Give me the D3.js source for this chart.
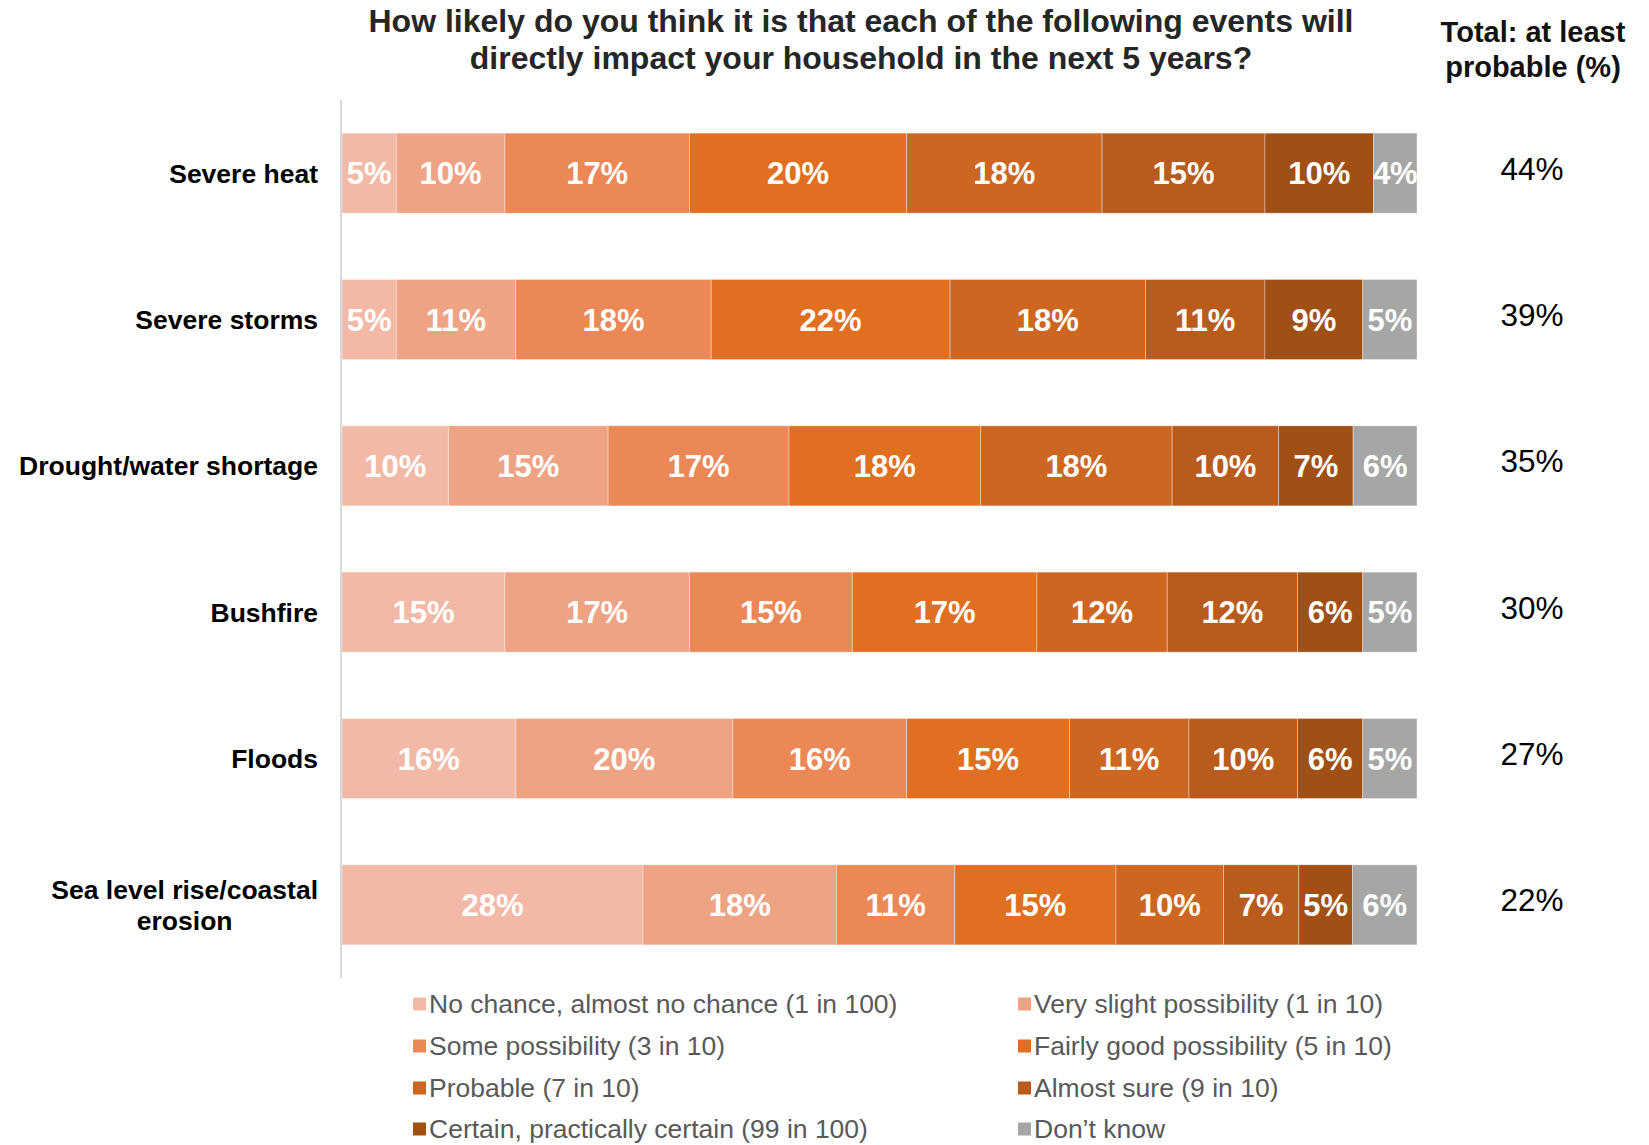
<!DOCTYPE html>
<html>
<head>
<meta charset="utf-8">
<script src="https://cdn.jsdelivr.net/npm/d3@7"></script>
<style>
  html, body { margin: 0; padding: 0; background: #fff; }
  svg { display: block; font-family: "Liberation Sans", Arial, sans-serif; }
</style>
</head>
<body>
<svg id="chart" width="1649" height="1145"></svg>
<script>
// Events asked about (top to bottom)
const categories = [
  "Severe heat",
  "Severe storms",
  "Drought/water shortage",
  "Bushfire",
  "Floods",
  "Sea level rise/coastal\nerosion"
];

// Response scale, in stacking order
const seriesNames = [
  "No chance, almost no chance (1 in 100)",
  "Very slight possibility (1 in 10)",
  "Some possibility (3 in 10)",
  "Fairly good possibility (5 in 10)",
  "Probable (7 in 10)",
  "Almost sure (9 in 10)",
  "Certain, practically certain (99 in 100)",
  "Don\u2019t know"
];

// Share of respondents (%) for each response, one array per response
const noChance     = [5, 5, 10, 15, 16, 28];
const verySlight   = [10, 11, 15, 17, 20, 18];
const somePoss     = [17, 18, 17, 15, 16, 11];
const fairlyGood   = [20, 22, 18, 17, 15, 15];
const probable     = [18, 18, 18, 12, 11, 10];
const almostSure   = [15, 11, 10, 12, 10, 7];
const certain      = [10, 9, 7, 6, 6, 5];
const dontKnow     = [4, 5, 6, 5, 5, 6];

// Total: at least probable (%)
const totalProbable = [44, 39, 35, 30, 27, 22];

const seriesColors = ["#F2BAA6", "#EEA385", "#EB8855", "#E07020",
                      "#CC6620", "#B95B1C", "#A05015", "#A6A6A6"];

const seriesValues = [noChance, verySlight, somePoss, fairlyGood,
                      probable, almostSure, certain, dontKnow];

// Build rows for d3.stack
const rows = categories.map((c, i) => {
  const r = { category: c };
  seriesNames.forEach((s, k) => { r[s] = seriesValues[k][i]; });
  return r;
});

const svg = d3.select("#chart");

const plot = { left: 342, right: 1417, top: 100, bottom: 978 };

const x = d3.scaleLinear().domain([0, 1]).range([plot.left, plot.right]);
const y = d3.scaleBand()
  .domain(categories)
  .range([plot.top, plot.bottom])
  .paddingInner(0.453)
  .paddingOuter(0.2265);
const color = d3.scaleOrdinal().domain(seriesNames).range(seriesColors);

const stacked = d3.stack()
  .keys(seriesNames)
  .offset(d3.stackOffsetExpand)(rows);

// Title
const title = svg.append("text")
  .attr("x", 861).attr("y", 32)
  .attr("text-anchor", "middle")
  .attr("font-size", 32).attr("font-weight", "bold")
  .attr("fill", "#262626");
title.append("tspan").attr("x", 861).attr("dy", 0)
  .text("How likely do you think it is that each of the following events will");
title.append("tspan").attr("x", 861).attr("dy", 37)
  .text("directly impact your household in the next 5 years?");

// Right-hand column header
const hdr = svg.append("text")
  .attr("x", 1533).attr("y", 42)
  .attr("text-anchor", "middle")
  .attr("font-size", 29).attr("font-weight", "bold")
  .attr("fill", "#111");
hdr.append("tspan").attr("x", 1533).attr("dy", 0).text("Total: at least");
hdr.append("tspan").attr("x", 1533).attr("dy", 35).text("probable (%)");

// Stacked bars
const layers = svg.append("g").selectAll("g")
  .data(stacked)
  .join("g")
  .attr("fill", d => color(d.key));

layers.selectAll("rect")
  .data(d => d.map(p => ({ p, key: d.key })))
  .join("rect")
  .attr("x", d => x(d.p[0]))
  .attr("y", d => y(d.p.data.category))
  .attr("width", d => x(d.p[1]) - x(d.p[0]))
  .attr("height", y.bandwidth())
  .attr("stroke", "#fff")
  .attr("stroke-opacity", 0.35)
  .attr("stroke-width", 1);

// Segment value labels
layers.selectAll("text")
  .data(d => d.map(p => ({ p, key: d.key })))
  .join("text")
  .attr("x", d => (x(d.p[0]) + x(d.p[1])) / 2)
  .attr("y", d => y(d.p.data.category) + y.bandwidth() / 2)
  .attr("dy", "0.36em")
  .attr("text-anchor", "middle")
  .attr("font-size", 31).attr("font-weight", "bold")
  .attr("fill", "#fff")
  .text(d => d.p.data[d.key] + "%");

// Vertical category axis line
svg.append("line")
  .attr("x1", plot.left - 1).attr("x2", plot.left - 1)
  .attr("y1", plot.top).attr("y2", plot.bottom)
  .attr("stroke", "#D9D9D9").attr("stroke-width", 2);

// Category labels (multi-line labels are centred within their block)
const labelRight = 318;
categories.forEach(c => {
  const lines = c.split("\n");
  const cy = y(c) + y.bandwidth() / 2;
  const g = svg.append("g");
  const t = g.append("text")
    .attr("font-size", 26.5).attr("font-weight", "bold")
    .attr("fill", "#000");
  const lh = 31;
  lines.forEach((ln, i) => {
    t.append("tspan")
      .attr("y", cy + (i - (lines.length - 1) / 2) * lh)
      .attr("dy", "0.36em")
      .text(ln);
  });
  const spans = t.selectAll("tspan").nodes();
  const widths = spans.map(s => s.getComputedTextLength());
  const maxW = d3.max(widths);
  const center = labelRight - maxW / 2;
  spans.forEach(s => d3.select(s).attr("x", center).attr("text-anchor", "middle"));
});

// Total column values
svg.append("g").selectAll("text")
  .data(categories)
  .join("text")
  .attr("x", 1532)
  .attr("y", (d) => y(d) + y.bandwidth() / 2 - 5)
  .attr("dy", "0.36em")
  .attr("text-anchor", "middle")
  .attr("font-size", 31.5)
  .attr("fill", "#000")
  .text((d, i) => totalProbable[i] + "%");

// Legend: two columns, filled row by row
const legendCols = [413, 1018];
const legendRows = [1004, 1046, 1088, 1129];
const legend = svg.append("g").selectAll("g")
  .data(seriesNames)
  .join("g")
  .attr("transform", (d, i) =>
    `translate(${legendCols[i % 2]},${legendRows[Math.floor(i / 2)]})`);
legend.append("rect")
  .attr("x", 0).attr("y", -6.5)
  .attr("width", 13).attr("height", 13)
  .attr("fill", d => color(d));
legend.append("text")
  .attr("x", 16).attr("y", 0).attr("dy", "0.34em")
  .attr("font-size", 26.5)
  .attr("fill", "#595959")
  .text(d => d);
</script>
</body>
</html>
